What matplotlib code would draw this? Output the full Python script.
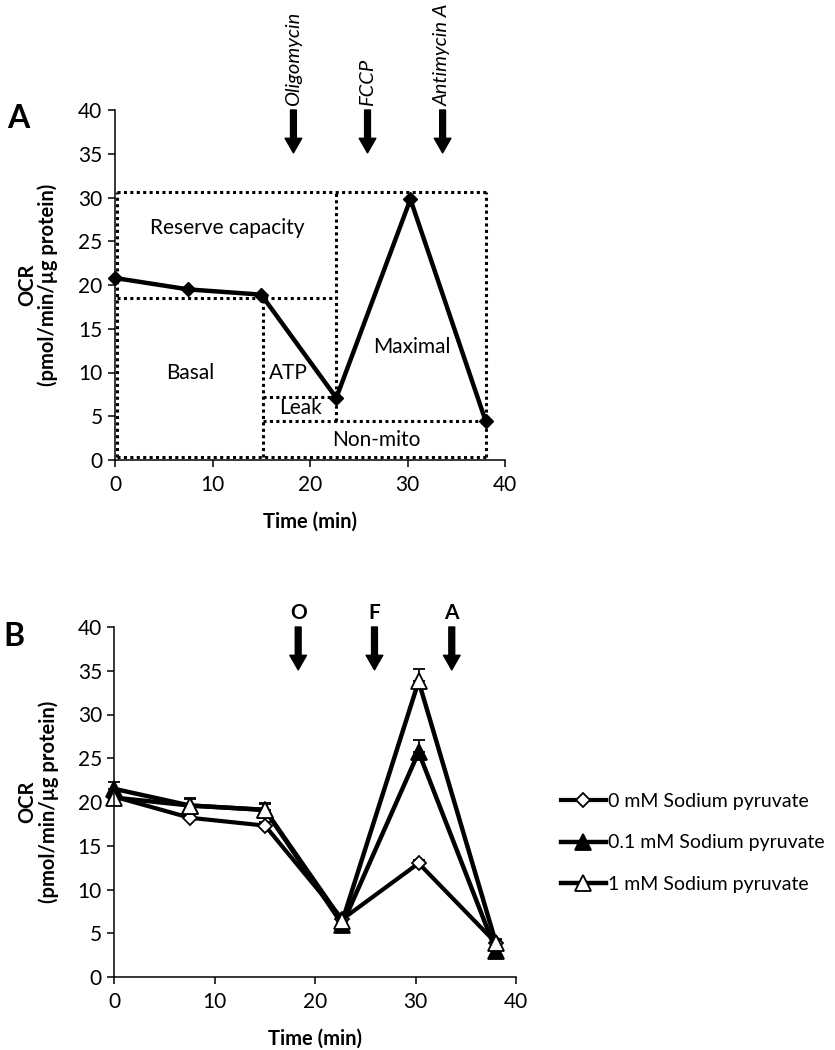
import numpy as np
import matplotlib
matplotlib.use("Agg")
import matplotlib.pyplot as plt

plt.rcParams['font.family'] = ['Lato', 'DejaVu Sans']

# measurement times (min)
time = [0, 7.5, 15.0, 22.7, 30.3, 38.0]

# panel A: example OCR trace
ocr_a = [20.8, 19.5, 18.9, 7.1, 29.8, 4.5]

# panel A: region boundaries (OCR levels)
reserve_top = 30.6
basal_top = 18.5
leak_top = 7.2
nonmito_top = 4.5
floor_level = 0.35

# panel B: sodium pyruvate series
labels_b = ['0 mM Sodium pyruvate', '0.1 mM Sodium pyruvate', '1 mM Sodium pyruvate']
pyr_0 = [20.6, 18.2, 17.3, 6.6, 13.0, 3.9]
pyr_01 = [21.5, 19.6, 19.1, 6.0, 25.7, 3.0]
pyr_1 = [20.5, 19.6, 19.1, 6.4, 33.8, 3.9]
err_0 = [0.4, 0.4, 0.4, 0.3, 0.4, 0.3]
err_01 = [0.8, 0.9, 0.8, 0.4, 1.4, 0.3]
err_1 = [0.6, 0.8, 0.7, 0.4, 1.4, 0.4]

injections = ['Oligomycin', 'FCCP', 'Antimycin A']
injections_short = ['O', 'F', 'A']
inject_time = [18.3, 25.9, 33.6]

W, H = 835, 1050
fig = plt.figure(figsize=(W / 100, H / 100), dpi=100)
ax_a = fig.add_axes([115 / W, 1 - 460 / H, 390 / W, 350 / H])
ax_b = fig.add_axes([114.5 / W, 1 - 977 / H, 401.5 / W, 350 / H])


def style_axes(ax, xcoord):
    ax.set_xlim(0, 40)
    ax.set_ylim(0, 40)
    ax.set_xticks([0, 10, 20, 30, 40])
    ax.set_yticks(range(0, 41, 5))
    for s in ['top', 'right']:
        ax.spines[s].set_visible(False)
    for s in ['left', 'bottom']:
        ax.spines[s].set_linewidth(1.1)
    ax.tick_params(direction='out', length=5, width=1.1, labelsize=15)
    ax.tick_params(axis='y', pad=4)
    ax.tick_params(axis='x', pad=6)
    ax.set_ylabel('OCR\n(pmol/min/µg protein)', fontsize=14.5,
                  fontweight='bold', linespacing=1.05)
    ax.yaxis.set_label_coords(xcoord, 0.5)
    ax.set_xlabel('Time (min)', fontsize=14.5, fontweight='bold', labelpad=12)


def arrow(ax, x):
    ax.annotate('', xy=(x, 35.1), xytext=(x, 40), annotation_clip=False,
                arrowprops=dict(facecolor='black', edgecolor='black',
                                width=4.2, headwidth=12, headlength=10.5,
                                shrink=0))


# ---------------- panel A ----------------
style_axes(ax_a, -0.145)
dot = dict(color='black', lw=2.2, linestyle=(0, (1, 1.1)),
           dash_capstyle='butt', zorder=2, clip_on=False)
x0, x_atp, x_olig, x_end = 0.2, 15.2, time[3], time[5]
ax_a.plot([x0, x_end], [reserve_top, reserve_top], **dot)
ax_a.plot([x0, x_end], [floor_level, floor_level], **dot)
ax_a.plot([x0, x0], [floor_level, reserve_top], **dot)
ax_a.plot([x_end, x_end], [floor_level, reserve_top], **dot)
ax_a.plot([x_olig, x_olig], [nonmito_top, reserve_top], **dot)
ax_a.plot([x0, x_olig], [basal_top, basal_top], **dot)
ax_a.plot([x_atp, x_atp], [floor_level, basal_top], **dot)
ax_a.plot([x_atp, x_olig], [leak_top, leak_top], **dot)
ax_a.plot([x_atp, x_end], [nonmito_top, nonmito_top], **dot)

ax_a.plot(time, ocr_a, color='black', lw=3.2, marker='D', ms=7.5,
          mfc='black', mec='black', zorder=4, clip_on=False)

region_txt = [('Reserve capacity', 11.5, 26.5), ('Basal', 7.7, 9.9),
              ('ATP', 17.8, 9.9), ('Leak', 19.0, 5.9),
              ('Maximal', 30.4, 12.9), ('Non-mito', 26.8, 2.3)]
for t, x, y in region_txt:
    ax_a.text(x, y, t, ha='center', va='center', fontsize=15)

for name, x in zip(injections, inject_time):
    arrow(ax_a, x)
    ax_a.text(x, 40.4, name, rotation=90, ha='center', va='bottom',
              fontsize=14.5, style='italic')

fig.text(18 / W, 1 - 118 / H, 'A', fontsize=23, fontweight='bold',
         ha='center', va='center')

# ---------------- panel B ----------------
style_axes(ax_b, -0.139)
series = [(pyr_0, err_0, 'D', 'white', 7.5, 3.0),
          (pyr_01, err_01, '^', 'black', 11, 3.2),
          (pyr_1, err_1, '^', 'white', 11, 3.2)]
for (vals, err, mk, fc, ms, lw), lab in zip(series, labels_b):
    ax_b.errorbar(time, vals, yerr=[np.zeros(len(err)), err], color='black',
                  lw=lw, marker=mk, ms=ms, mfc=fc, mec='black', mew=1.3,
                  ecolor='black', elinewidth=1.3, capsize=4, capthick=1.3,
                  label=lab, clip_on=False)

for name, x in zip(injections_short, inject_time):
    arrow(ax_b, x)
    ax_b.text(x, 41.6, name, ha='center', va='center', fontsize=15,
              fontweight='bold')

fig.text(14 / W, 1 - 637 / H, 'B', fontsize=23, fontweight='bold',
         ha='center', va='center')

handles, labs = ax_b.get_legend_handles_labels()
handles = [h[0] for h in handles]
fig.legend(handles, labs, loc='upper left',
           bbox_to_anchor=(561 / W, 1 - 793 / H), frameon=False,
           fontsize=14, borderpad=0, handlelength=2.3, handletextpad=0.1,
           labelspacing=1.25, borderaxespad=0)

fig.savefig('out.png', dpi=100)
